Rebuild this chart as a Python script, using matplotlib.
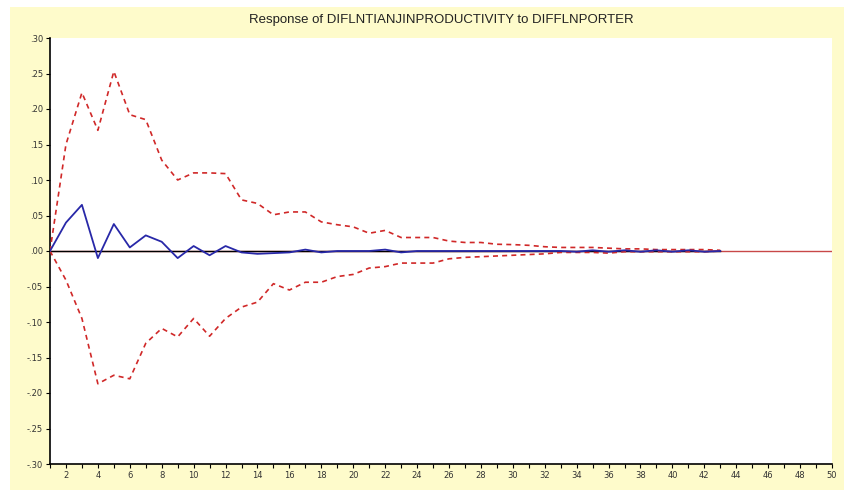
import numpy as np
import matplotlib.pyplot as plt

# impulse response (periods 1..43) and +/- 2 S.E. bands
periods = np.arange(1, 44)
response = [0.000, 0.040, 0.065, -0.010, 0.038, 0.005, 0.022, 0.013, -0.010, 0.007,
            -0.006, 0.007, -0.002, -0.004, -0.003, -0.002, 0.002, -0.002, 0.000, 0.000,
            0.000, 0.002, -0.002, 0.000, 0.000, 0.000, 0.000, 0.000, 0.000, 0.000,
            0.000, 0.000, 0.000, -0.001, 0.001, -0.001, 0.001, -0.001, 0.001, -0.001,
            0.001, -0.001, 0.000]
upper = [0.000, 0.150, 0.223, 0.170, 0.253, 0.192, 0.185, 0.128, 0.100, 0.110,
         0.110, 0.109, 0.072, 0.067, 0.051, 0.055, 0.055, 0.041, 0.037, 0.034,
         0.025, 0.029, 0.019, 0.019, 0.019, 0.014, 0.012, 0.012, 0.0095, 0.009,
         0.008, 0.006, 0.005, 0.005, 0.005, 0.004, 0.003, 0.003, 0.002, 0.002,
         0.002, 0.002, 0.001]
lower = [0.000, -0.041, -0.095, -0.187, -0.175, -0.180, -0.130, -0.109, -0.121, -0.095,
         -0.120, -0.095, -0.079, -0.072, -0.046, -0.055, -0.044, -0.044, -0.036, -0.033,
         -0.024, -0.022, -0.017, -0.017, -0.017, -0.011, -0.009, -0.008, -0.007, -0.006,
         -0.005, -0.004, -0.002, -0.002, -0.002, -0.003, -0.001, -0.001, -0.001, -0.001,
         -0.001, -0.001, 0.000]

yticks = np.round(np.arange(-0.30, 0.31, 0.05), 2) + 0.0
ylabels = [("%.2f" % v).replace("0.", ".") for v in yticks]
xmax = 50

fig = plt.figure(figsize=(8.45, 4.92), dpi=100, facecolor="white")
# yellow panel behind the plot
fig.patches.append(plt.Rectangle((10 / 845, 2 / 492), 835 / 845, 483 / 492,
                                 transform=fig.transFigure, facecolor="#FEFBCB",
                                 edgecolor="none", zorder=-1))

ax = fig.add_axes([50 / 845, 28 / 492, 782 / 845, 426 / 492])
ax.set_facecolor("white")

ax.axhline(0, color="#C84848", lw=1.0, zorder=1)
ax.plot([1, periods[-1]], [0, 0], color="black", lw=1.0, zorder=2)
ax.plot(periods, upper, color="#D02828", lw=1.2, ls=(0, (3, 2.5)), zorder=3)
ax.plot(periods, lower, color="#D02828", lw=1.2, ls=(0, (3, 2.5)), zorder=3)
ax.plot(periods, response, color="#2828A8", lw=1.3, zorder=4)

ax.set_xlim(1, xmax)
ax.set_ylim(-0.30, 0.30)
ax.set_yticks(yticks)
ax.set_yticklabels(ylabels)
ax.set_xticks(np.arange(1, xmax + 1), minor=True)
ax.set_xticks(np.arange(2, xmax + 1, 2))
ax.tick_params(axis="both", direction="out", length=3, width=0.8,
               labelsize=6, colors="black", labelcolor="#333333", pad=2)
ax.tick_params(axis="x", which="minor", direction="out", length=3, width=0.8)

for side in ["top", "right"]:
    ax.spines[side].set_visible(False)
for side in ["left", "bottom"]:
    ax.spines[side].set_linewidth(1.2)

fig.text(441 / 845, 1 - 20 / 492, "Response of DIFLNTIANJINPRODUCTIVITY to DIFFLNPORTER",
         ha="center", va="center", fontsize=9.5, family="Liberation Sans", color="#222222")

fig.savefig("out.png", dpi=100, facecolor="white")
